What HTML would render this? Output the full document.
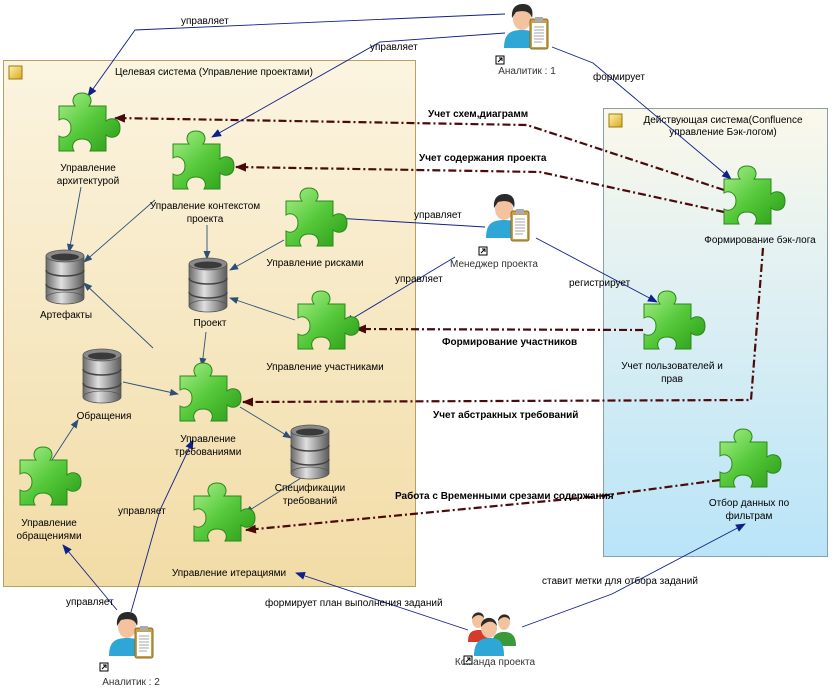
<!DOCTYPE html>
<html><head><meta charset="utf-8"><style>
html,body{margin:0;padding:0;background:#fff;}
svg{display:block;font-family:"Liberation Sans","DejaVu Sans",sans-serif;font-size:10px;}
</style></head><body>
<svg width="838" height="693" viewBox="0 0 838 693" xmlns="http://www.w3.org/2000/svg">
<defs>
<linearGradient id="lp" x1="0" y1="0" x2="0" y2="1"><stop offset="0" stop-color="#fbf4e0"/><stop offset="1" stop-color="#f2dca6"/></linearGradient>
<linearGradient id="rp" x1="0" y1="0" x2="0" y2="1"><stop offset="0" stop-color="#fbf8ea"/><stop offset="0.35" stop-color="#e3f1f2"/><stop offset="1" stop-color="#b9e4f8"/></linearGradient>
<linearGradient id="pg" x1="0" y1="0" x2="1" y2="1"><stop offset="0" stop-color="#a8f08a"/><stop offset="0.5" stop-color="#55c83a"/><stop offset="1" stop-color="#2a9c18"/></linearGradient>
<linearGradient id="dg" x1="0" y1="0" x2="1" y2="0"><stop offset="0" stop-color="#6a6a6a"/><stop offset="0.4" stop-color="#e0e0e0"/><stop offset="1" stop-color="#5a5a5a"/></linearGradient>
<linearGradient id="ic" x1="0" y1="0" x2="1" y2="1"><stop offset="0" stop-color="#fff2a8"/><stop offset="1" stop-color="#d9a820"/></linearGradient>
<g id="pz"><path d="M10,14 H26 C22,9 24,1 33,1 C42,1 44,9 40,14 H57 V29 C62,25 71,26 71,36 C71,46 62,47 57,43 V59 H41 C44,54 42,47 33,47 C24,47 22,54 25,59 H10 V44 C15,47 22,44 22,36 C22,28 15,25 10,28 Z" fill="url(#pg)" stroke="#2a8a1a" stroke-width="1"/></g>
<g id="db"><rect x="2" y="6" width="38" height="42" fill="url(#dg)" stroke="#555" stroke-width="0.8"/>
<ellipse cx="21" cy="48" rx="19" ry="6" fill="url(#dg)" stroke="#555" stroke-width="0.8"/>
<path d="M2,20 A19,6 0 0 0 40,20 M2,34 A19,6 0 0 0 40,34" fill="none" stroke="#444" stroke-width="1.5"/>
<ellipse cx="21" cy="6" rx="19" ry="6" fill="#8a8a8a" stroke="#555" stroke-width="0.8"/>
<ellipse cx="21" cy="7" rx="14" ry="3.5" fill="#3a3a3a"/></g>
<g id="man"><path d="M2,46 C2,32 8,28 20,28 C32,28 38,32 38,46 Z" fill="#2ea6d6"/>
<ellipse cx="20" cy="17" rx="9" ry="11" fill="#f3c3a0"/>
<path d="M10,16 C9,4 16,2 21,2 C28,2 32,7 30,16 C28,9 22,8 14,10 Z" fill="#2a2a2a"/></g>
<g id="clip"><rect x="0" y="3" width="18" height="30" rx="2" fill="#c9a04a" stroke="#8a6a20"/><rect x="2" y="7" width="14" height="24" fill="#fff"/><rect x="5" y="1" width="8" height="5" fill="#aaa"/>
<path d="M4,11 H14 M4,14 H14 M4,17 H14 M4,20 H14 M4,23 H14 M4,26 H12" stroke="#888" stroke-width="0.8"/></g>
<g id="sc"><rect x="0" y="0" width="8" height="8" fill="#fff" stroke="#000"/><path d="M2,6 L6,2 M3,2 H6 V5" stroke="#000" fill="none"/></g>
<marker id="ab" markerWidth="10" markerHeight="8" refX="9" refY="4" orient="auto" markerUnits="userSpaceOnUse"><path d="M0,0 L10,4 L0,8 Z" fill="#10208a"/></marker>
<marker id="as" markerWidth="9" markerHeight="7" refX="8" refY="3.5" orient="auto" markerUnits="userSpaceOnUse"><path d="M0,0 L9,3.5 L0,7 Z" fill="#2a5078"/></marker>
<marker id="ar" markerWidth="11" markerHeight="9" refX="10" refY="4.5" orient="auto" markerUnits="userSpaceOnUse"><path d="M0,0 L11,4.5 L0,9 Z" fill="#4a0a0a"/></marker>
</defs>

<rect x="3.5" y="60.5" width="412" height="526" fill="url(#lp)" stroke="#b8a060"/>
<rect x="9" y="66" width="13" height="13" fill="url(#ic)" stroke="#a07810"/>
<text x="115" y="75">Целевая система (Управление проектами)</text>
<rect x="603.5" y="108.5" width="224" height="448" fill="url(#rp)" stroke="#8aa0a8"/>
<rect x="609" y="114" width="13" height="13" fill="url(#ic)" stroke="#a07810"/>
<text x="723" y="123" text-anchor="middle">Действующая система(Confluence</text>
<text x="723" y="135" text-anchor="middle">управление Бэк-логом)</text>

<g stroke="#2a5078" stroke-width="0.9" fill="none" marker-end="url(#as)">
<line x1="81" y1="187" x2="69" y2="252"/>
<line x1="155" y1="200" x2="84" y2="262"/>
<line x1="207" y1="225" x2="207" y2="259"/>
<line x1="284" y1="240" x2="230" y2="270"/>
<line x1="295" y1="320" x2="230" y2="298"/>
<line x1="206" y1="332" x2="202" y2="366"/>
<line x1="153" y1="348" x2="84" y2="283"/>
<line x1="123" y1="382" x2="178" y2="394"/>
<line x1="240" y1="407" x2="291" y2="438"/>
<line x1="52" y1="460" x2="78" y2="420"/>
<line x1="301" y1="478" x2="245" y2="513"/>
</g>

<g stroke="#4a0a0a" stroke-width="2.2" fill="none" stroke-dasharray="8,3,2,3" marker-end="url(#ar)">
<polyline points="724,190 527,125 115,118"/>
<polyline points="724,212 540,172 236,167"/>
<polyline points="643,330 356,329"/>
<polyline points="763,248 751,400 243,402"/>
<polyline points="720,480 600,496 246,530"/>
</g>
<g font-weight="bold" font-size="10">
<text x="428" y="117">Учет схем,диаграмм</text>
<text x="419" y="161">Учет содержания проекта</text>
<text x="442" y="345">Формирование участников</text>
<text x="433" y="418">Учет абстракных требований</text>
<text x="395" y="499">Работа с Временными срезами содержания</text>
</g>

<g stroke="#10208a" stroke-width="0.9" fill="none" marker-end="url(#ab)">
<polyline points="505,14 135,30 88,96"/>
<polyline points="505,33 380,42 212,137"/>
<polyline points="552,47 593,63 731,179"/>
<polyline points="485,227 335,218"/>
<polyline points="455,257 345,323"/>
<polyline points="536,238 657,302"/>
<polyline points="117,610 63,545"/>
<polyline points="131,612 160,510 193,440"/>
<polyline points="468,630 296,573"/>
<polyline points="522,627 612,594 745,524"/>
</g>
<g font-size="10">
<text x="181" y="24">управляет</text>
<text x="370" y="50">управляет</text>
<text x="593" y="80">формирует</text>
<text x="414" y="218">управляет</text>
<text x="395" y="282">управляет</text>
<text x="569" y="286">регистрирует</text>
<text x="118" y="514">управляет</text>
<text x="66" y="605">управляет</text>
<text x="265" y="606">формирует план выполнения заданий</text>
<text x="542" y="584">ставит метки для отбора заданий</text>
</g>

<use href="#pz" x="49" y="92"/>
<use href="#pz" x="163" y="130"/>
<use href="#pz" x="276" y="187"/>
<use href="#pz" x="288" y="290"/>
<use href="#pz" x="170" y="362"/>
<use href="#pz" x="10" y="446"/>
<use href="#pz" x="184" y="482"/>
<use href="#pz" x="714" y="165"/>
<use href="#pz" x="634" y="290"/>
<use href="#pz" x="710" y="428"/>

<use href="#db" x="44" y="250"/>
<use href="#db" x="187" y="258"/>
<use href="#db" x="81" y="349"/>
<use href="#db" x="289" y="425"/>

<g text-anchor="middle" font-size="10">
<text x="88" y="171">Управление</text><text x="88" y="184">архитектурой</text>
<text x="205" y="209">Управление контекстом</text><text x="205" y="222">проекта</text>
<text x="315" y="266">Управление рисками</text>
<text x="325" y="370">Управление участниками</text>
<text x="208" y="442">Управление</text><text x="208" y="455">требованиями</text>
<text x="49" y="526">Управление</text><text x="49" y="539">обращениями</text>
<text x="229" y="576">Управление итерациями</text>
<text x="760" y="243">Формирование бэк-лога</text>
<text x="672" y="369">Учет пользователей и</text><text x="672" y="382">прав</text>
<text x="749" y="506">Отбор данных по</text><text x="749" y="519">фильтрам</text>
<text x="66" y="318">Артефакты</text>
<text x="210" y="326">Проект</text>
<text x="104" y="419">Обращения</text>
<text x="310" y="491">Спецификации</text><text x="310" y="504">требований</text>
<text x="527" y="74" fill="#333">Аналитик : 1</text>
<text x="494" y="267" fill="#333">Менеджер проекта</text>
<text x="131" y="685" fill="#333">Аналитик : 2</text>
<text x="495" y="665" fill="#333">Команда проекта</text>
</g>

<use href="#man" x="502" y="2"/><use href="#clip" x="530" y="16"/><use href="#sc" x="496" y="56"/>
<use href="#man" x="484" y="192"/><use href="#clip" x="511" y="208"/><use href="#sc" x="479" y="247"/>
<use href="#man" x="107" y="610"/><use href="#clip" x="135" y="625"/><use href="#sc" x="100" y="663"/>
<g transform="translate(466,608)">
<path d="M2,34 C2,24 6,22 14,22 C22,22 24,26 24,34 Z" fill="#d63a2a"/><ellipse cx="12" cy="12" rx="6" ry="8" fill="#f3c3a0"/><path d="M6,11 C6,3 18,2 18,10 C15,6 10,6 6,11Z" fill="#2a2a2a"/>
<path d="M26,38 C26,28 30,24 38,24 C46,24 50,28 50,38 Z" fill="#3a9a3a"/><ellipse cx="38" cy="14" rx="6" ry="8" fill="#f3c3a0"/><path d="M32,13 C32,5 44,4 44,12 C41,8 36,8 32,13Z" fill="#2a2a2a"/>
<path d="M8,48 C8,34 14,30 24,30 C34,30 38,34 38,48 Z" fill="#2ea6d6"/><ellipse cx="23" cy="20" rx="8" ry="10" fill="#f3c3a0"/><path d="M15,19 C14,8 30,6 31,18 C27,12 21,12 15,19Z" fill="#2a2a2a"/>
</g>
<use href="#sc" x="464" y="656"/>
</svg>
</body></html>
